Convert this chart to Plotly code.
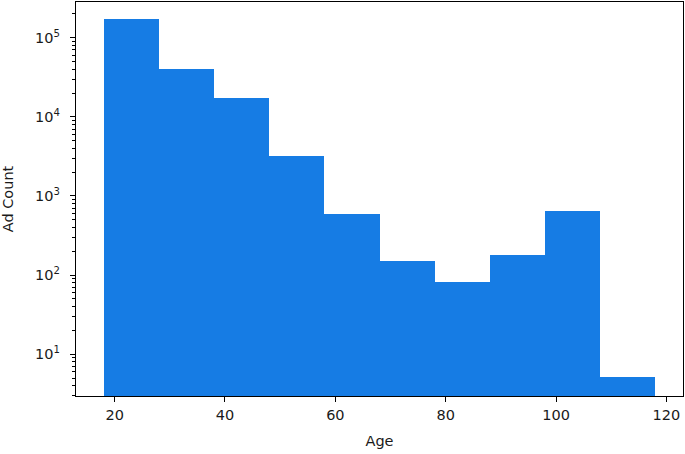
import plotly.graph_objects as go

# histogram bins (age) and counts per bin
bin_edges = [18, 28, 38, 48, 58, 68, 78, 88, 98, 108, 118]
ad_counts = [172000, 39900, 17100, 3200, 588, 153, 82, 181, 645, 5.1]

x_ticks = [20, 40, 60, 80, 100, 120]
y_exponents = [1, 2, 3, 4, 5]

centers = [(a + b) / 2 for a, b in zip(bin_edges[:-1], bin_edges[1:])]
widths = [b - a for a, b in zip(bin_edges[:-1], bin_edges[1:])]

BLUE = 'rgb(22,124,228)'
FONT = 'DejaVu Sans'
TXT = '#1a1a1a'
Y_RANGE = [0.473, 5.451]

fig = go.Figure()
fig.add_trace(go.Bar(
    x=centers,
    y=ad_counts,
    width=widths,
    marker=dict(color=BLUE, line=dict(width=0)),
))
# empty helper trace so the minor-tick axis gets drawn
fig.add_trace(go.Scatter(x=[None], y=[None], yaxis='y2', hoverinfo='skip'))

axis_common = dict(
    showgrid=False, zeroline=False, automargin=False,
    showline=True, linecolor='black', linewidth=1.2, mirror=True,
    ticks='outside', ticklen=5, tickwidth=1, tickcolor='black',
    tickfont=dict(family=FONT, size=14.5, color=TXT),
)

# minor log ticks 2..9 in every decade, like matplotlib
minor_vals = [m * 10 ** e for e in range(0, 6) for m in range(2, 10)]

fig.update_xaxes(
    range=[13, 123], tickvals=x_ticks,
    title=dict(text='Age', font=dict(family=FONT, size=14.5, color=TXT), standoff=14),
    **axis_common,
)
fig.update_yaxes(
    type='log', range=Y_RANGE,
    tickvals=[10 ** e for e in y_exponents],
    ticktext=[f'10<sup>{e}</sup>' for e in y_exponents],
    ticklabelstandoff=7,
    title=dict(text='Ad Count', font=dict(family=FONT, size=14.5, color=TXT), standoff=18),
    **axis_common,
)

fig.update_layout(
    yaxis2=dict(
        type='log', range=Y_RANGE, overlaying='y', side='left',
        tickvals=minor_vals, showticklabels=False,
        ticks='outside', ticklen=3, tickwidth=1, tickcolor='black',
        showgrid=False, zeroline=False, showline=False,
    ),
    width=685, height=454,
    margin=dict(l=76, r=2, t=2, b=58),
    paper_bgcolor='white', plot_bgcolor='white',
    showlegend=False, bargap=0,
)

fig.write_html("out.html", config={'displayModeBar': False},
               post_script="document.body.style.margin='0';")
